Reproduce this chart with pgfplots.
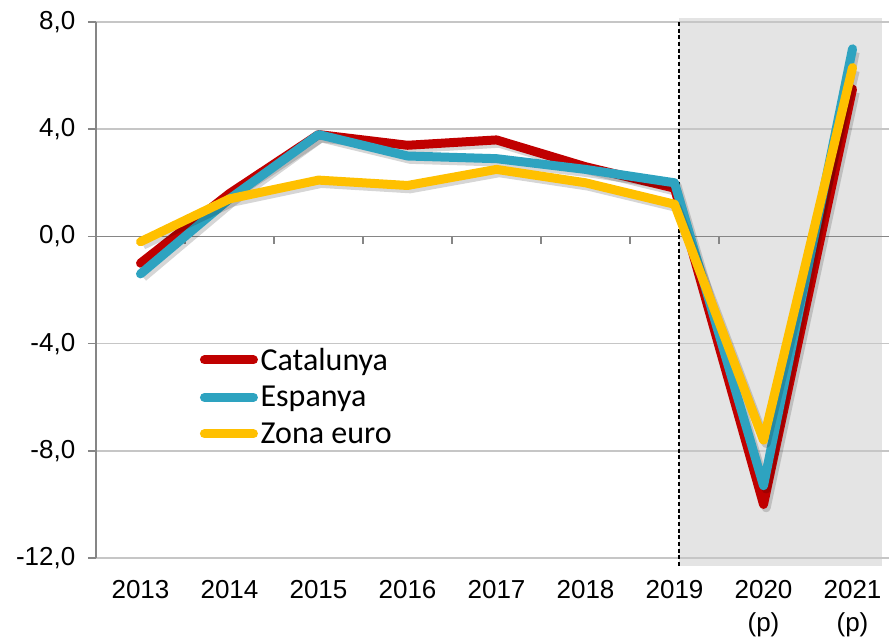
\documentclass[border=0pt]{standalone}
\usepackage{fontspec}
\setmainfont{Liberation Sans}
\newfontfamily\legendfont{Carlito}
\usepackage{pgfplots}
\usepackage{pgfplotstable}
\pgfplotsset{compat=1.18}
\definecolor{catc}{RGB}{192,0,0}
\definecolor{espc}{RGB}{46,163,192}
\definecolor{zonc}{RGB}{255,192,0}
\definecolor{shadec}{RGB}{228,228,228}
\definecolor{gridc}{RGB}{198,198,198}
\definecolor{axc}{RGB}{134,134,134}

\pgfplotstableread{
x cat esp zon
0 -1.0 -1.4 -0.2
1 1.6 1.4 1.4
2 3.8 3.8 2.1
3 3.4 3.0 1.9
4 3.6 2.9 2.5
5 2.6 2.5 2.0
6 1.8 2.0 1.2
7 -10.0 -9.3 -7.6
8 5.5 7.0 6.3
}\datatab

\begin{document}
\begin{tikzpicture}
\begin{axis}[
  set layers,
  scale only axis, width=594.75pt, height=402pt,
  xmin=-0.5, xmax=8.41, ymin=-12, ymax=8,
  clip=false,
  axis x line*=bottom, axis y line*=left,
  axis line style={-},
  x axis line style={draw=none},
  y axis line style={axc, line width=1.1pt},
  ytick={-12,-8,...,8},
  yticklabels={{-12,0},{-8,0},{-4,0},{0,0},{4,0},{8,0}},
  ymajorgrids, grid style={gridc, line width=1.1pt},
  tick align=outside, major tick length=6pt,
  y tick style={axc, line width=1.1pt},
  xtick={0,...,8},
  xticklabels={2013,2014,2015,2016,2017,2018,2019,{2020\\[1pt](p)},{2021\\[1pt](p)}},
  x tick style={draw=none},
  xticklabel style={align=center, font=\fontsize{19.5}{23.25}\selectfont, yshift=-7.5pt},
  yticklabel style={font=\fontsize{19.5}{23}\selectfont, xshift=-6pt},
  legend style={at={(axis cs:0.62,-3.95)}, anchor=north west, draw=none, fill=none,
    font=\legendfont\fontsize{24}{28}\selectfont, row sep=6.5pt},
  legend cell align=left,
  legend image code/.code={\draw[#1, line width=6.75pt, line cap=round] (0pt,0pt) -- (36.75pt,0pt);},
]
\addplot[on layer=axis background, fill=shadec, draw=none, forget plot]
  coordinates {(6.05,-12.3) (8.33,-12.3) (8.33,8.15) (6.05,8.15)} -- cycle;
\draw[axc, line width=1.1pt] (axis cs:-0.5,0) -- (axis cs:8.41,0);
\pgfplotsinvokeforeach{0.5,1.5,2.5,3.5,4.5,5.5,6.5,7.5}{
  \draw[axc, line width=1.1pt] (axis cs:#1,0) -- ([yshift=-6pt]axis cs:#1,0);
}
\draw[black, line width=1.3pt, dash pattern=on 3pt off 2pt] (axis cs:6.05,8) -- (axis cs:6.05,-12.3);

\addplot[forget plot, black, opacity=0.16, line width=6.75pt, line join=round, xshift=2pt, yshift=-2.5pt] table[x=x,y=cat]{\datatab};
\addplot[catc, line width=6.75pt, line join=round, line cap=round] table[x=x,y=cat]{\datatab};
\addlegendentry{Catalunya}
\addplot[forget plot, black, opacity=0.16, line width=6.75pt, line join=round, xshift=2pt, yshift=-2.5pt] table[x=x,y=esp]{\datatab};
\addplot[espc, line width=6.75pt, line join=round, line cap=round] table[x=x,y=esp]{\datatab};
\addlegendentry{Espanya}
\addplot[forget plot, black, opacity=0.16, line width=6.75pt, line join=round, xshift=2pt, yshift=-2.5pt] table[x=x,y=zon]{\datatab};
\addplot[zonc, line width=6.75pt, line join=round, line cap=round] table[x=x,y=zon]{\datatab};
\addlegendentry{Zona euro}
\end{axis}
\pgfresetboundingbox
\useasboundingbox (-72pt,-58.5pt) rectangle (594.75pt,418.5pt);
\end{tikzpicture}
\end{document}
